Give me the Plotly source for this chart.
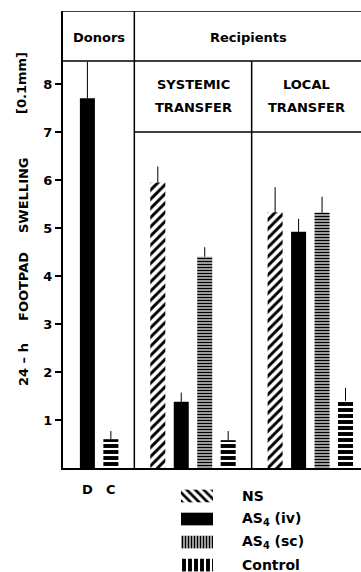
import plotly.graph_objects as go

# ---------------- data ----------------
categories = ["D", "C", "gap1", "S-NS", "S-iv", "S-sc", "S-ctrl",
              "gap2", "L-NS", "L-iv", "L-sc", "L-ctrl"]
donor_cats = ["D", "C"]
donor_vals = [7.7, 0.6]
donor_err = [0.76, 0.17]
systemic_cats = ["S-NS", "S-iv", "S-sc", "S-ctrl"]
systemic_vals = [5.95, 1.38, 4.4, 0.58]
systemic_err = [0.33, 0.19, 0.2, 0.19]
local_cats = ["L-NS", "L-iv", "L-sc", "L-ctrl"]
local_vals = [5.33, 4.92, 5.32, 1.4]
local_err = [0.52, 0.27, 0.33, 0.27]
y_ticks = [1, 2, 3, 4, 5, 6, 7, 8]
legend_labels = ["NS", "AS<sub>4</sub> (iv)", "AS<sub>4</sub> (sc)", "Control"]

FONT = "DejaVu Sans"
W, H = 361, 572
L, T = 63, 11
PW, PH = W - L, H - T

def px_x(p):
    return (p - L) / PW

def px_y(p):
    return 1 - (p - T) / PH

y_base_px = 468
y_top = 9.52

def pat(shape, size, solidity):
    return dict(shape=shape, fgcolor="black", bgcolor="white", size=size,
                solidity=solidity, fgopacity=1)

styles = {
    "NS": dict(color="white", line=dict(width=0), pattern=pat("/", 6.5, 0.45)),
    "iv": dict(color="black", line=dict(width=0)),
    "sc": dict(color="white", line=dict(width=0), pattern=pat("-", 3, 0.6)),
    "ctrl": dict(color="white", line=dict(width=0), pattern=pat("-", 6, 0.65)),
}
legend_styles = [
    dict(color="white", line=dict(width=0), pattern=pat("\\", 6, 0.45)),
    dict(color="black", line=dict(width=0)),
    dict(color="white", line=dict(width=0), pattern=pat("|", 3, 0.6)),
    dict(color="white", line=dict(width=0), pattern=pat("|", 6, 0.65)),
]

groups = {"NS": [], "iv": [], "sc": [], "ctrl": []}
keys = ["NS", "iv", "sc", "ctrl"]
groups["iv"].append((donor_cats[0], donor_vals[0], donor_err[0]))
groups["ctrl"].append((donor_cats[1], donor_vals[1], donor_err[1]))
for cats, vals, errs in [(systemic_cats, systemic_vals, systemic_err),
                         (local_cats, local_vals, local_err)]:
    for k, c, v, e in zip(keys, cats, vals, errs):
        groups[k].append((c, v, e))

fig = go.Figure()
for k in keys:
    xs = [g[0] for g in groups[k]]
    ys = [g[1] for g in groups[k]]
    es = [g[2] for g in groups[k]]
    fig.add_trace(go.Bar(
        x=xs, y=ys, width=0.64, marker=styles[k], showlegend=False,
        error_y=dict(type="data", symmetric=False, array=es, arrayminus=[0] * len(es),
                     width=0, thickness=1, color="black"),
        xaxis="x", yaxis="y"))

# legend swatches as horizontal bars on a small second axis
for i in range(4):
    fig.add_trace(go.Bar(x=[1], y=[i], orientation="h", width=0.55, marker=legend_styles[i],
                         showlegend=False, xaxis="x2", yaxis="y2"))

main_dom_bottom = px_y(y_base_px)
BOLD13 = dict(family=FONT, size=13, weight="bold", color="black")

fig.update_layout(
    width=W, height=H, margin=dict(l=L, r=0, t=T, b=0),
    paper_bgcolor="white", plot_bgcolor="white", barmode="overlay",
    font=dict(family=FONT, color="black", size=12),
    xaxis=dict(domain=[0, 1], type="category", categoryorder="array", categoryarray=categories,
               range=[-1.04, 11.66], showline=True, linecolor="black", linewidth=2,
               tickmode="array", tickvals=["D", "C"], ticktext=["D", "C"], ticks="",
               tickfont=BOLD13, ticklabelstandoff=8,
               showgrid=False, zeroline=False, anchor="y", fixedrange=True),
    yaxis=dict(domain=[main_dom_bottom, 1], range=[0, y_top], tickvals=y_ticks,
               ticks="outside", ticklen=6, tickwidth=1.5, tickcolor="black",
               showline=True, linecolor="black", linewidth=2, showgrid=False, zeroline=False,
               tickfont=BOLD13, ticklabelstandoff=0,
               anchor="x", fixedrange=True),
    xaxis2=dict(domain=[px_x(181), px_x(213)], range=[0, 1], visible=False, anchor="y2",
                fixedrange=True),
    yaxis2=dict(domain=[0, px_y(484)], range=[3.3, -0.52], visible=False, anchor="x2",
                fixedrange=True),
)

line = dict(color="black", width=1.5)
shapes = [
    dict(type="line", xref="paper", yref="y", x0=0, x1=1, y0=y_top, y1=y_top, line=line),
    dict(type="line", xref="paper", yref="y", x0=0, x1=1, y0=8.48, y1=8.48, line=line),
    dict(type="line", xref="x", yref="y", x0=2, x1=2, y0=0, y1=y_top, line=line),
    dict(type="line", xref="x", yref="y", x0=2, x1=11.66, y0=7.0, y1=7.0, line=line),
    dict(type="line", xref="x", yref="y", x0=7, x1=7, y0=0, y1=8.48, line=line),
]
fig.update_layout(shapes=shapes)

ann = []
def text(x, y, s, size=13, angle=0, xanchor="center", weight="bold"):
    ann.append(dict(x=px_x(x), y=px_y(y), xref="paper", yref="paper", text=s, showarrow=False,
                    xanchor=xanchor, yanchor="middle", textangle=angle,
                    font=dict(family=FONT, size=size, color="black", weight=weight)))

text(99, 37, "Donors")
text(248, 37, "Recipients")
text(193, 85, "SYSTEMIC")
text(193, 108, "TRANSFER")
text(306, 85, "LOCAL")
text(306, 108, "TRANSFER")
# y-axis title words
text(23, 365, "24 – h", 13, -90)
text(23, 287, "FOOTPAD", 13, -90)
text(23, 195, "SWELLING", 13, -90)
text(21, 83, "[0.1mm]", 13, -90)

for i, lab in enumerate(legend_labels):
    ann.append(dict(x=px_x(240), y=i, xref="paper", yref="y2", text=lab, showarrow=False,
                    xanchor="left", yanchor="middle",
                    font=dict(family=FONT, size=14, color="black", weight="bold")))
fig.update_layout(annotations=ann)

fig.write_html("out.html", config={"displayModeBar": False},
               post_script="document.body.style.margin='0px';")
